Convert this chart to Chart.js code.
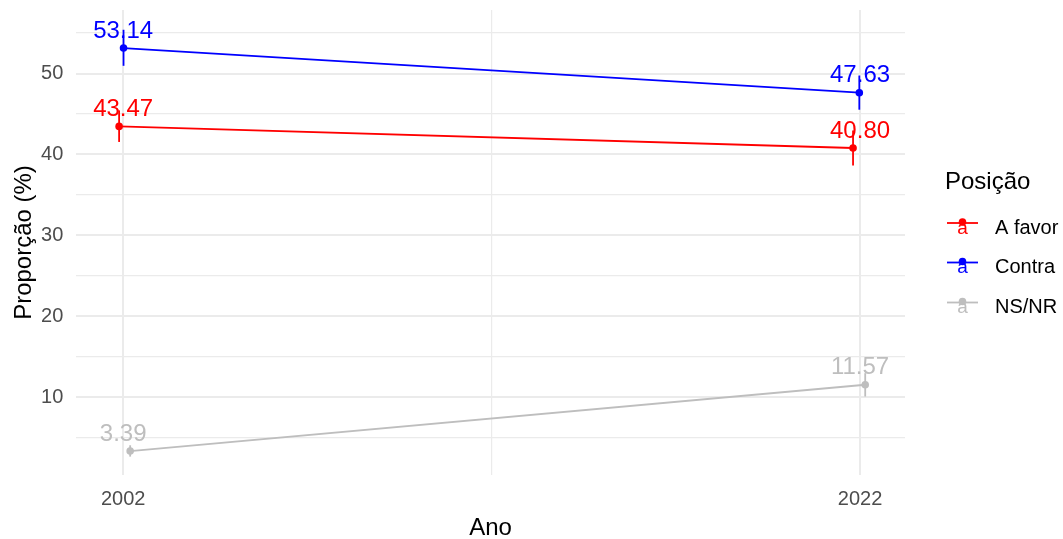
<!DOCTYPE html>
<html><head><meta charset="utf-8">
<script src="https://cdn.jsdelivr.net/npm/chart.js@4.4.1/dist/chart.umd.min.js"></script>
<style>html,body{margin:0;padding:0;background:#fff;} #wrap{width:1063px;height:539px;}</style>
</head><body><div id="wrap"><canvas id="c" width="1063" height="539"></canvas></div>
<script>
// ---- data ----
const series = ['A favor', 'Contra', 'NS/NR'];
const seriesColors = ['#ff0000', '#0000ff', '#bebebe'];
const years = [2002, 2022];
const xFavor = [2001.89, 2021.81];
const xContra = [2002.01, 2021.98];
const xNsnr = [2002.19, 2022.14];
const valFavor = [43.47, 40.80];
const valContra = [53.14, 47.63];
const valNsnr = [3.39, 11.57];
const lowFavor = [41.55, 38.65];
const highFavor = [45.45, 42.95];
const lowContra = [50.95, 45.53];
const highContra = [55.40, 49.75];
const lowNsnr = [2.70, 10.12];
const highNsnr = [4.10, 13.00];
const xTickValues = [2002, 2012, 2022];
const xTickLabels = ['2002', '', '2022'];
const yTickValues = [5, 10, 15, 20, 25, 30, 35, 40, 45, 50, 55];
const yTickLabels = ['', '10', '', '20', '', '30', '', '40', '', '50', ''];

const FONT = "'Liberation Sans', Arial, sans-serif";
Chart.defaults.font.family = FONT;

const xs = [xFavor, xContra, xNsnr];
const vals = [valFavor, valContra, valNsnr];
const lows = [lowFavor, lowContra, lowNsnr];
const highs = [highFavor, highContra, highNsnr];

const datasets = [];
series.forEach((name, s) => {
  datasets.push({
    label: name,
    data: years.map((y, i) => ({x: xs[s][i], y: vals[s][i]})),
    borderColor: seriesColors[s],
    backgroundColor: seriesColors[s],
    borderWidth: 1.8,
    pointRadius: 3.8,
    pointHoverRadius: 3.8,
    pointBorderWidth: 0,
    tension: 0,
    isMain: true
  });
  years.forEach((y, i) => {
    datasets.push({
      label: name + ' IC ' + y,
      data: [{x: xs[s][i], y: lows[s][i]}, {x: xs[s][i], y: highs[s][i]}],
      borderColor: seriesColors[s],
      backgroundColor: seriesColors[s],
      borderWidth: 1.8,
      pointRadius: 0,
      pointHoverRadius: 0,
      isMain: false
    });
  });
});

const labelNudge = 2.35;
const labelPlugin = {
  id: 'valueLabels',
  afterDatasetsDraw(chart) {
    const {ctx, scales: {x, y}} = chart;
    ctx.save();
    const fs = 24;
    ctx.font = fs + 'px ' + FONT;
    ctx.textAlign = 'center';
    ctx.textBaseline = 'alphabetic';
    series.forEach((name, s) => {
      ctx.fillStyle = seriesColors[s];
      years.forEach((yr, i) => {
        const px = x.getPixelForValue(yr);
        const py = y.getPixelForValue(vals[s][i] + labelNudge) + fs * 0.716 / 2;
        ctx.fillText(vals[s][i].toFixed(2), px, py);
      });
    });
    ctx.restore();
  }
};

const legendPlugin = {
  id: 'ggLegend',
  afterDraw(chart) {
    const {ctx} = chart;
    ctx.save();
    ctx.fillStyle = '#000';
    ctx.font = '24px ' + FONT;
    ctx.textAlign = 'left';
    ctx.textBaseline = 'alphabetic';
    ctx.fillText('Posição', 945, 189);
    const rows = [223, 262.5, 302.5];
    const mains = chart.data.datasets.filter(d => d.isMain);
    mains.forEach((d, k) => {
      const ry = rows[k];
      ctx.strokeStyle = d.borderColor;
      ctx.lineWidth = 1.8;
      ctx.beginPath();
      ctx.moveTo(947, ry);
      ctx.lineTo(978, ry);
      ctx.stroke();
      ctx.fillStyle = d.borderColor;
      ctx.beginPath();
      ctx.arc(962.5, ry - 1, 3.8, 0, Math.PI * 2);
      ctx.fill();
      ctx.font = '19px ' + FONT;
      ctx.textAlign = 'center';
      ctx.fillText('a', 962.5, ry + 10.5);
      ctx.fillStyle = '#000';
      ctx.font = '20px ' + FONT;
      ctx.textAlign = 'left';
      ctx.fillText(d.label, 995, ry + 10.5);
    });
    ctx.restore();
  }
};

new Chart(document.getElementById('c'), {
  type: 'line',
  data: {datasets},
  options: {
    responsive: false,
    animation: false,
    devicePixelRatio: 1,
    layout: {padding: {top: 10, right: 158, left: 0, bottom: 0}},
    plugins: {legend: {display: false}, tooltip: {enabled: false}},
    elements: {line: {fill: false}},
    scales: {
      x: {
        type: 'linear',
        min: 2000.72,
        max: 2023.22,
        afterBuildTicks: (s) => { s.ticks = xTickValues.map(v => ({value: v})); },
        afterFit: (s) => { s.height = 64; s.paddingLeft = 0; s.paddingRight = 0; },
        ticks: {
          autoSkip: false,
          maxRotation: 0,
          padding: 12.5,
          color: '#4d4d4d',
          font: {size: 20, lineHeight: 1.2},
          callback: (v) => { const i = xTickValues.indexOf(v); return i >= 0 ? xTickLabels[i] : ''; }
        },
        grid: {
          color: '#ebebeb',
          drawTicks: false,
          lineWidth: (c) => (c.tick && xTickLabels[xTickValues.indexOf(c.tick.value)] === '') ? 1.2 : 2
        },
        border: {display: false},
        title: {display: true, text: 'Ano', color: '#000', font: {size: 24, lineHeight: 1}, padding: {top: 0, bottom: -1}}
      },
      y: {
        type: 'linear',
        min: 0.43,
        max: 57.84,
        afterBuildTicks: (s) => { s.ticks = yTickValues.map(v => ({value: v})); },
        afterFit: (s) => { s.width = 76; s.paddingTop = 0; s.paddingBottom = 0; },
        ticks: {
          autoSkip: false,
          padding: 12.7,
          color: '#4d4d4d',
          font: {size: 20, lineHeight: 1.2},
          callback: (v) => { const i = yTickValues.indexOf(v); return i >= 0 ? yTickLabels[i] : ''; }
        },
        grid: {
          color: '#ebebeb',
          drawTicks: false,
          lineWidth: (c) => (c.tick && yTickLabels[yTickValues.indexOf(c.tick.value)] === '') ? 1.2 : 2
        },
        border: {display: false},
        title: {display: true, text: 'Proporção (%)', color: '#000', font: {size: 24, lineHeight: 1}, padding: {top: 12, bottom: 0}}
      }
    }
  },
  plugins: [labelPlugin, legendPlugin]
});
</script>
</body></html>
